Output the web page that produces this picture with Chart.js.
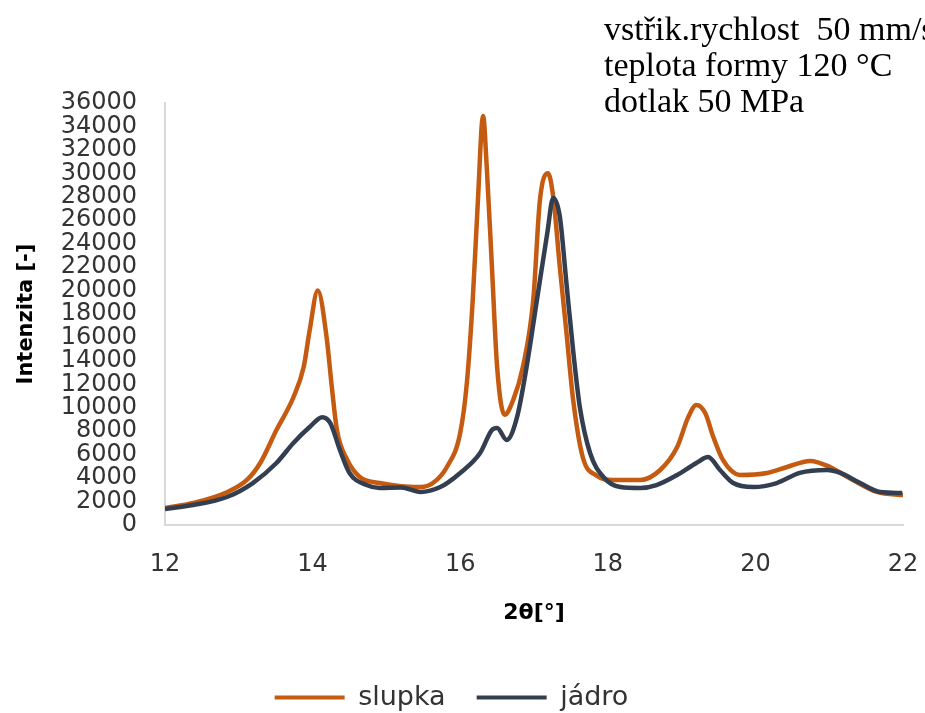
<!DOCTYPE html>
<html>
<head>
<meta charset="utf-8">
<script src="https://cdn.jsdelivr.net/npm/chart.js@4.4.1/dist/chart.umd.min.js"></script>
<style>
  html, body { margin: 0; padding: 0; background: #ffffff; }
  #wrap { width: 925px; height: 713px; }
</style>
</head>
<body>
<div id="wrap"><canvas id="c" width="925" height="713"></canvas></div>
<script>
// ---- data ----
const slupkaX = [12.0, 12.38, 12.84, 13.11, 13.29, 13.51, 13.74, 13.88, 13.96, 14.07, 14.19, 14.26, 14.33, 14.47, 14.64, 14.91, 15.2, 15.46, 15.63, 15.82, 16.0, 16.09, 16.17, 16.24, 16.31, 16.36, 16.43, 16.5, 16.6, 16.72, 16.85, 16.99, 17.08, 17.19, 17.26, 17.35, 17.44, 17.53, 17.66, 17.85, 18.07, 18.44, 18.71, 18.94, 19.09, 19.2, 19.32, 19.43, 19.56, 19.79, 20.16, 20.43, 20.74, 21.01, 21.32, 21.65, 21.96, 22.0];
const slupkaY = [1450, 1880, 2800, 3840, 5290, 8100, 10900, 13500, 16600, 20000, 16000, 11800, 8100, 5550, 4100, 3580, 3300, 3240, 3580, 4950, 7850, 12100, 19200, 27700, 34900, 30500, 22000, 13500, 9400, 10700, 13500, 19200, 27700, 30000, 28000, 22000, 16400, 10700, 5800, 4200, 3840, 3840, 4690, 6650, 9200, 10240, 9550, 7500, 5550, 4270, 4440, 4950, 5460, 4950, 3840, 2820, 2560, 2550];

const jadroX = [12.0, 12.38, 12.84, 13.19, 13.51, 13.74, 13.96, 14.13, 14.24, 14.37, 14.5, 14.73, 14.91, 15.2, 15.46, 15.73, 16.0, 16.27, 16.43, 16.5, 16.63, 16.77, 16.9, 17.04, 17.18, 17.26, 17.35, 17.44, 17.53, 17.62, 17.76, 17.94, 18.17, 18.44, 18.66, 18.94, 19.2, 19.36, 19.52, 19.7, 19.97, 20.29, 20.6, 20.97, 21.15, 21.42, 21.69, 21.99];
const jadroY = [1370, 1700, 2390, 3580, 5290, 7000, 8360, 9200, 8700, 6400, 4440, 3410, 3160, 3200, 2820, 3240, 4440, 6140, 8100, 8270, 7250, 9200, 13500, 19200, 24900, 27900, 26300, 20600, 14900, 10100, 6140, 4100, 3240, 3160, 3410, 4270, 5290, 5800, 4690, 3580, 3240, 3580, 4440, 4690, 4440, 3580, 2820, 2730];

const seriesNames = ['slupka', 'jádro'];
const xTicks = [12, 14, 16, 18, 20, 22];
const yTicks = [0, 2000, 4000, 6000, 8000, 10000, 12000, 14000, 16000, 18000, 20000, 22000, 24000, 26000, 28000, 30000, 32000, 34000, 36000];
const xTitle = '2θ[°]';
const yTitle = 'Intenzita [-]';
const noteLines = ['vstřik.rychlost  50 mm/s', 'teplota formy 120 °C', 'dotlak 50 MPa'];

// ---- styles ----
const ORANGE = '#C55A11';
const NAVY = '#333F50';
const AXIS = '#D9D9D9';
const TXT = '#333333';

const pts = (xs, ys) => xs.map((x, i) => ({ x: x, y: ys[i] }));

const notesPlugin = {
  id: 'notes',
  afterDraw(chart) {
    const c = chart.ctx;
    c.save();
    c.font = '34px "Liberation Serif", "Times New Roman", serif';
    c.fillStyle = '#000000';
    c.textBaseline = 'alphabetic';
    c.textAlign = 'left';
    noteLines.forEach((t, i) => c.fillText(t, 604, 40 + i * 36));
    c.restore();
  }
};

new Chart(document.getElementById('c'), {
  type: 'scatter',
  data: {
    datasets: [
      { label: seriesNames[1], data: pts(jadroX, jadroY), showLine: true, borderColor: NAVY, backgroundColor: NAVY,
        borderWidth: 4.5, pointRadius: 0, pointHoverRadius: 0, cubicInterpolationMode: 'monotone' },
      { label: seriesNames[0], data: pts(slupkaX, slupkaY), showLine: true, borderColor: ORANGE, backgroundColor: ORANGE,
        borderWidth: 4.5, pointRadius: 0, pointHoverRadius: 0, cubicInterpolationMode: 'monotone' }
    ]
  },
  options: {
    responsive: false,
    animation: false,
    layout: { padding: { top: 103, right: 22, left: 0, bottom: -8 } },
    plugins: {
      tooltip: { enabled: false },
      legend: {
        position: 'bottom',
        reverse: true,
        labels: {
          boxWidth: 70,
          boxHeight: 4,
          padding: 31,
          color: TXT,
          font: { family: '"DejaVu Sans", sans-serif', size: 27 },
          generateLabels(chart) {
            return Chart.defaults.plugins.legend.labels.generateLabels(chart).map(l => {
              l.lineWidth = 0; l.fillStyle = l.strokeStyle; return l;
            });
          }
        }
      }
    },
    scales: {
      x: {
        type: 'linear', min: 12, max: 22,
        afterBuildTicks(scale) { scale.ticks = xTicks.map(v => ({ value: v })); },
        afterFit(scale) { scale.height = 721 - 525 - scale.chart.legend.height; },
        grid: { display: false, drawTicks: true, tickLength: 25 },
        border: { display: true, color: AXIS, width: 2 },
        ticks: { padding: 0, color: TXT, font: { family: '"DejaVu Sans", sans-serif', size: 24 }, maxRotation: 0,
                 callback: v => String(v) },
        title: { display: true, text: xTitle, color: '#000', padding: { top: 0, bottom: 27 },
                 font: { family: '"DejaVu Sans", sans-serif', size: 22, weight: 'bold', lineHeight: 1.2 } }
      },
      y: {
        type: 'linear', min: 0, max: 36000,
        afterBuildTicks(scale) { scale.ticks = yTicks.map(v => ({ value: v })); },
        afterFit(scale) { scale.width = 165; },
        grid: { display: false, drawTicks: false },
        border: { display: true, color: AXIS, width: 2 },
        ticks: { padding: 28, autoSkip: false, color: TXT, font: { family: '"DejaVu Sans", sans-serif', size: 24, lineHeight: 1 },
                 callback: v => String(v) },
        title: { display: true, text: yTitle, color: '#000', padding: { top: 14, bottom: 0 },
                 font: { family: '"DejaVu Sans", sans-serif', size: 21, weight: 'bold', lineHeight: 1.2 } }
      }
    }
  },
  plugins: [notesPlugin]
});
</script>
</body>
</html>
